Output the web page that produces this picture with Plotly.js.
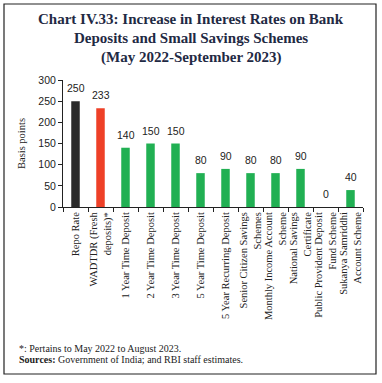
<!DOCTYPE html>
<html>
<head>
<meta charset="utf-8">
<script src="https://cdn.plot.ly/plotly-3.0.1.min.js"></script>
<style>
html,body{margin:0;padding:0;background:#fff;}
#chart{width:382px;height:383px;}
</style>
</head>
<body>
<div id="chart"></div>
<script>
const categories = [
  "Repo Rate",
  "WADTDR (Fresh<br>deposits)*",
  "1 Year Time Deposit",
  "2 Year Time Deposit",
  "3 Year Time Deposit",
  "5 Year Time Deposit",
  "5 Year Recurring Deposit",
  "Senior Citizen Savings<br>Schemes",
  "Monthly Income Account<br>Scheme",
  "National Savings<br>Certificate",
  "Public Provident Deposit<br>Fund Scheme",
  "Sukanya Samriddhi<br>Account Scheme"
];
const values = [250, 233, 140, 150, 150, 80, 90, 80, 80, 90, 0, 40];
const barColors = ["#2b2b2b", "#ee4027", "#21b053", "#21b053", "#21b053", "#21b053", "#21b053", "#21b053", "#21b053", "#21b053", "#21b053", "#21b053"];
const yTicks = [0, 50, 100, 150, 200, 250, 300];
const titleLines = [
  "Chart IV.33: Increase in Interest Rates on Bank",
  "Deposits and Small Savings Schemes",
  "(May 2022-September 2023)"
];
const footLines = [
  "*: Pertains to May 2022 to August 2023.",
  "<b>Sources:</b> Government of India; and RBI staff estimates."
];

const W = 382, H = 383;
const mL = 63, mR = 19, mT = 80, mB = 176;
const pw = W - mL - mR, ph = H - mT - mB;
const px = x => (x - mL) / pw;
const py = y => (H - mB - y) / ph;

const serif = "Liberation Serif, Times New Roman, serif";
const sans = "Liberation Sans, Arial, sans-serif";

const trace = {
  type: "bar",
  x: categories,
  y: values,
  marker: {color: barColors},
  cliponaxis: false,
  hoverinfo: "x+y"
};

const titleY = [19, 38, 57];
const footY = [348, 359];
const valueLabels = categories.map((c, i) => ({
  xref: "x", yref: "y", x: c, y: values[i],
  xanchor: "center", yanchor: "bottom", yshift: 5, showarrow: false,
  text: String(values[i]),
  font: {family: sans, size: 10.5, color: "#222"}
}));
const annotations = titleLines.map((t, i) => ({
  xref: "paper", yref: "paper", x: px(191), y: py(titleY[i]),
  xanchor: "center", yanchor: "middle", showarrow: false,
  text: "<b>" + t + "</b>",
  font: {family: serif, size: 15, color: "#1f2a44"}
})).concat(footLines.map((t, i) => ({
  xref: "paper", yref: "paper", x: px(17), y: py(footY[i]),
  xanchor: "left", yanchor: "middle", showarrow: false,
  text: t,
  font: {family: serif, size: 10, color: "#222"}
}))).concat(valueLabels);

const layout = {
  width: W, height: H,
  margin: {l: mL, r: mR, t: mT, b: mB, pad: 0},
  paper_bgcolor: "#fff",
  plot_bgcolor: "#fff",
  showlegend: false,
  bargap: 0.66,
  xaxis: {
    type: "category",
    showline: true, linecolor: "#222", linewidth: 1,
    ticks: "outside", ticklen: 4, tickcolor: "#222", tickson: "boundaries",
    tickangle: -90,
    tickfont: {family: serif, size: 10.5, color: "#222"},
    showgrid: false, zeroline: false,
    automargin: false
  },
  yaxis: {
    range: [0, 300],
    tickvals: yTicks,
    showline: true, linecolor: "#222", linewidth: 1,
    ticks: "outside", ticklen: 4, tickcolor: "#222",
    tickfont: {family: sans, size: 10.5, color: "#222"},
    showgrid: false, zeroline: false,
    title: {text: "Basis points", font: {family: serif, size: 10.5, color: "#222"}, standoff: 10},
    automargin: false
  },
  shapes: [{
    type: "rect", xref: "paper", yref: "paper",
    x0: px(4), x1: px(376), y0: py(374), y1: py(4),
    line: {color: "#222", width: 1.2}, fillcolor: "rgba(0,0,0,0)", layer: "below"
  }],
  annotations: annotations
};

Plotly.newPlot("chart", [trace], layout, {displayModeBar: false, staticPlot: true});
</script>
</body>
</html>
